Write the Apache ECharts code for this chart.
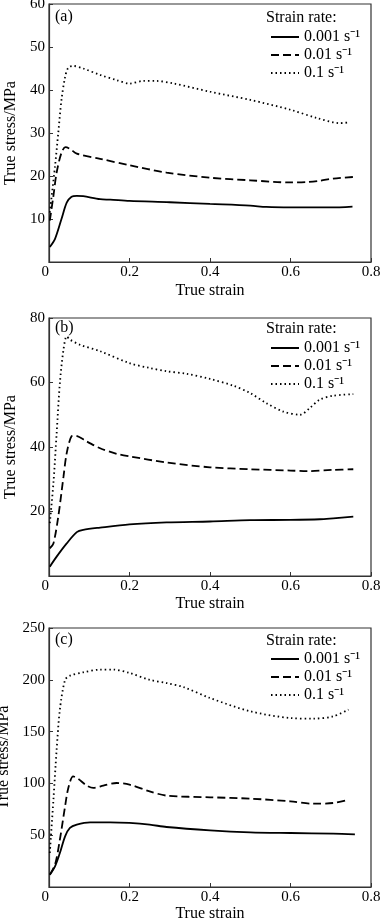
<!DOCTYPE html>
<html>
<head>
<meta charset="utf-8">
<script src="https://cdn.jsdelivr.net/npm/echarts@6/dist/echarts.min.js"></script>
<style>html,body{margin:0;padding:0;background:#fff}#c{width:380px;height:923px}</style>
</head>
<body>
<div id="c"></div>
<script>
// x tick labels: 0, 0.2, 0.4, 0.6, 0.8
const xTicks = [0, 0.2, 0.4, 0.6, 0.8];
const panelLabels = ['(a)', '(b)', '(c)'];
const rateNames = ['0.001 s\u207B\u00B9', '0.01 s\u207B\u00B9', '0.1 s\u207B\u00B9'];
const yMax = [60, 80, 250];
const yStep = [10, 20, 50];

// Panel (a)
const a_001 = [[0.002,3.5],[0.015,5.4],[0.031,10],[0.044,13.8],[0.056,15.2],[0.069,15.4],[0.085,15.3],[0.127,14.6],[0.152,14.5],[0.2,14.2],[0.3,13.9],[0.4,13.5],[0.5,13.1],[0.54,12.8],[0.6,12.7],[0.7,12.7],[0.754,12.9]];
const a_01 = [[0.002,9.6],[0.011,15.4],[0.019,20.8],[0.031,25.4],[0.041,26.7],[0.052,26.3],[0.069,25.2],[0.127,24],[0.2,22.5],[0.292,20.8],[0.4,19.6],[0.5,19],[0.6,18.5],[0.64,18.6],[0.673,18.9],[0.706,19.4],[0.76,19.8]];
const a_1 = [[0.002,11.5],[0.015,22.3],[0.023,30],[0.031,37.7],[0.04,43],[0.048,45.2],[0.06,45.6],[0.085,45],[0.127,43.5],[0.168,42.3],[0.2,41.5],[0.234,42.1],[0.267,42.1],[0.31,41.5],[0.4,39.6],[0.5,37.7],[0.6,35.4],[0.665,33.5],[0.723,32.3],[0.748,32.5]];
// Panel (b)
const b_001 = [[0.002,2.9],[0.019,6.0],[0.044,10.1],[0.069,13.6],[0.085,14.3],[0.127,15],[0.2,16],[0.292,16.6],[0.4,16.9],[0.5,17.3],[0.6,17.4],[0.673,17.6],[0.706,17.9],[0.756,18.4]];
const b_01 = [[0.002,8.6],[0.011,10.1],[0.023,18.4],[0.036,30.8],[0.044,38.1],[0.056,43.3],[0.065,43.5],[0.094,41.7],[0.127,39.6],[0.168,37.9],[0.2,37.1],[0.292,35.2],[0.4,33.7],[0.5,33.1],[0.6,32.7],[0.64,32.5],[0.706,32.9],[0.756,33.1]];
const b_1 = [[0.002,16.4],[0.011,28.8],[0.019,44.3],[0.027,59.8],[0.036,70.2],[0.044,74.3],[0.052,73.3],[0.077,71.7],[0.127,69.7],[0.2,66],[0.25,64.5],[0.292,63.5],[0.342,62.7],[0.4,61.1],[0.458,59],[0.5,56.7],[0.54,53.6],[0.582,51],[0.624,50],[0.648,52.1],[0.673,54.7],[0.706,55.9],[0.756,56.4]];
// Panel (c)
const c_001 = [[0.002,11.9],[0.015,20],[0.027,32.8],[0.04,48.9],[0.052,57],[0.069,60.2],[0.102,62.4],[0.152,62.4],[0.2,61.8],[0.25,60.2],[0.292,57.9],[0.4,54.7],[0.5,52.8],[0.6,52.1],[0.706,51.5],[0.76,50.8]];
const c_01 = [[0.002,11.9],[0.015,21.6],[0.027,45.7],[0.04,77.9],[0.048,95.6],[0.06,106.8],[0.073,104.2],[0.094,97.8],[0.11,95.6],[0.135,97.8],[0.168,100.4],[0.2,98.8],[0.25,92.3],[0.292,88.2],[0.4,86.6],[0.5,85.3],[0.6,82.7],[0.657,80.4],[0.706,81.1],[0.744,84.3]];
const c_1 = [[0.002,32.8],[0.011,84.3],[0.019,132.6],[0.027,171.2],[0.04,200],[0.052,204],[0.085,207.2],[0.127,209.8],[0.16,209.8],[0.2,206.6],[0.25,200],[0.292,196.9],[0.334,193],[0.4,182.4],[0.5,169.6],[0.6,163.1],[0.657,162.5],[0.706,164.7],[0.744,171.2]];

const panelData = [[a_001, a_01, a_1], [b_001, b_01, b_1], [c_001, c_01, c_1]];

const FONT = 'Liberation Serif';
const gridTops = [4, 318, 628];
const gridHeights = [258, 258, 259];
const xNameGaps = [21, 20, 19];
const legendTops = [29, 340, 651];
const titleTops = [10, 321, 633];
const lineTypes = ['solid', [8, 4], [1.5, 3]];

const chart = echarts.init(document.getElementById('c'), null, {renderer: 'canvas'});

const grids = [], xAxes = [], yAxes = [], series = [], legends = [], titles = [];
for (let p = 0; p < 3; p++) {
  grids.push({left: 49, width: 322, top: gridTops[p], height: gridHeights[p], containLabel: false, outerBoundsMode: 'none',
    show: true, borderColor: '#333', borderWidth: 1.2, backgroundColor: 'transparent'});
  xAxes.push({
    type: 'value', gridIndex: p, min: 0, max: 0.8, interval: 0.2,
    name: 'True strain', nameLocation: 'middle', nameGap: xNameGaps[p],
    nameTextStyle: {fontFamily: FONT, fontSize: 16, color: '#000'},
    axisLine: {show: true, lineStyle: {color: '#333', width: 1.2}},
    axisTick: {show: true, inside: true, length: 4, lineStyle: {color: '#333'}},
    axisLabel: {fontFamily: FONT, fontSize: 15, color: '#000', margin: 3, alignMinLabel: 'right',
      formatter: v => { const t = xTicks.find(k => Math.abs(k - v) < 1e-6); return t === undefined ? '' : String(t); }},
    splitLine: {show: false}
  });
  yAxes.push({
    type: 'value', gridIndex: p, min: 0, max: yMax[p], interval: yStep[p],
    name: 'True stress/MPa', nameLocation: 'middle', nameGap: 30,
    nameTextStyle: {fontFamily: FONT, fontSize: 16, color: '#000'},
    axisLine: {show: true, lineStyle: {color: '#333', width: 1.2}},
    axisTick: {show: true, inside: true, length: 4, lineStyle: {color: '#333'}},
    axisLabel: {fontFamily: FONT, fontSize: 15, color: '#000', margin: 4, showMinLabel: false},
    splitLine: {show: false}
  });
  for (let s = 0; s < 3; s++) {
    series.push({
      type: 'line', name: rateNames[s], xAxisIndex: p, yAxisIndex: p,
      data: panelData[p][s], symbol: 'none', smooth: 0.3,
      lineStyle: {color: '#000', width: 1.8, type: lineTypes[s]},
      itemStyle: {color: '#000'},
      silent: true, animation: false
    });
  }
  legends.push({
    data: rateNames, orient: 'vertical', left: 270, top: legendTops[p],
    itemWidth: 28, itemHeight: 10, itemGap: 2, padding: 0,
    itemStyle: {color: 'transparent', borderColor: 'transparent', borderWidth: 0, opacity: 0},
    textStyle: {fontFamily: FONT, fontSize: 16, color: '#000', lineHeight: 16},
    selectedMode: false
  });
  titles.push({text: 'Strain rate:', left: 266, top: titleTops[p], padding: 0,
    textStyle: {fontFamily: FONT, fontSize: 16, fontWeight: 'normal', color: '#000'}});
  titles.push({text: panelLabels[p], left: 55, top: titleTops[p] - 1, padding: 0,
    textStyle: {fontFamily: FONT, fontSize: 16, fontWeight: 'normal', color: '#000'}});
}

chart.setOption({
  animation: false,
  backgroundColor: '#fff',
  title: titles,
  legend: legends,
  grid: grids,
  xAxis: xAxes,
  yAxis: yAxes,
  series: series
});
</script>
</body>
</html>
